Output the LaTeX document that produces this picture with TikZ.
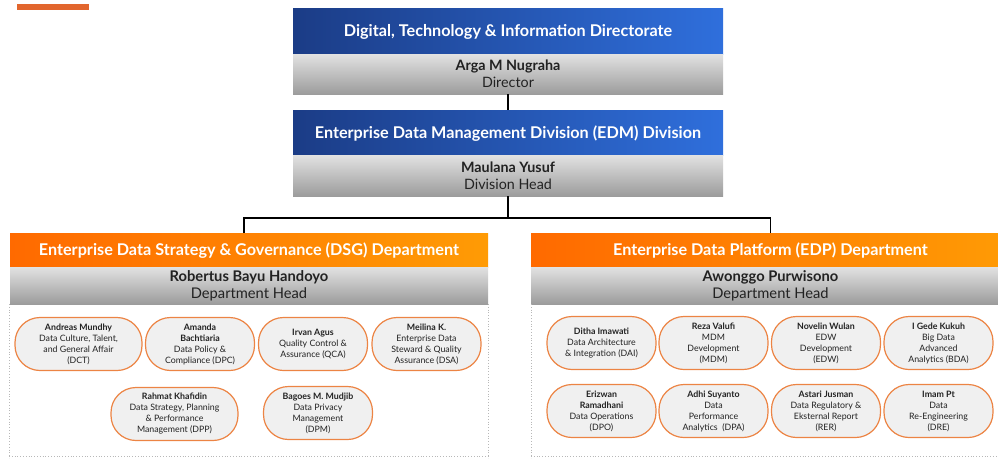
\documentclass[tikz,border=0pt]{standalone}
\usepackage{fontspec}
\setmainfont{Lato}
\usepackage{xcolor}
\usepackage{tikz}
\usetikzlibrary{calc}
\definecolor{bluedark}{HTML}{1B3C86}
\definecolor{bluelight}{HTML}{2F6FDC}
\definecolor{orgdark}{HTML}{FF6A00}
\definecolor{orglight}{HTML}{FF9B05}
\definecolor{graytop}{HTML}{E2E2E2}
\definecolor{graybot}{HTML}{9C9C9C}
\definecolor{pillbg}{HTML}{F0F0F0}
\definecolor{pillrim}{HTML}{EC8444}
\definecolor{ink}{HTML}{222222}
\definecolor{frame}{HTML}{B8B8B8}
\definecolor{bar}{HTML}{E2662E}
\tikzset{
  hdr/.style={rectangle, inner sep=0pt, text=white, text height=11.5pt, text depth=0pt,
    font=\bfseries\fontsize{16.2}{18}\selectfont},
  hdrblue/.style={hdr, left color=bluedark, right color=bluelight, minimum width=430pt},
  hdrorg/.style={hdr, left color=orgdark, right color=orglight, minimum width=478pt, minimum height=34pt},
  head/.style={rectangle, inner sep=0pt, align=center, text=ink, top color=graytop, bottom color=graybot,
    font=\fontsize{14.3}{17}\selectfont},
  pill/.style={rectangle, rounded corners=25pt, draw=pillrim, line width=1.2pt, fill=pillbg,
    minimum width=109pt, minimum height=53pt, inner sep=0pt, align=center, text=ink,
    font=\fontsize{8.8}{11}\selectfont},
  wide/.style={minimum width=127pt},
  link/.style={draw=black, line width=1.4pt},
  box/.style={draw=frame, dotted, line width=0.8pt},
}
\begin{document}
\begin{tikzpicture}[x=1pt, y=-1pt]
  \useasboundingbox (0,0) rectangle (998,458);
  \fill[bar] (17,4) rectangle (89,10);
  % directorate and division
  \node[hdrblue, minimum height=46pt] (dir) at (508,31) {Digital, Technology \& Information Directorate};
  \node[head, minimum width=430pt, minimum height=40pt] (dirhead) at (508,74)
    {\textbf{Arga M Nugraha}\\Director};
  \node[hdrblue, minimum height=45pt] (edm) at (508,132.5) {Enterprise Data Management Division (EDM) Division};
  \node[head, minimum width=430pt, minimum height=41pt] (edmhead) at (508,175.5)
    {\textbf{Maulana Yusuf}\\Division Head};
  % departments
  \node[hdrorg] (dsg) at (249,250) {Enterprise Data Strategy \& Governance (DSG) Department};
  \node[head, minimum width=478pt, minimum height=37pt, font=\fontsize{14.7}{17}\selectfont] (dsghead) at (249,285.5)
    {\textbf{Robertus Bayu Handoyo}\\Department Head};
  \node[hdrorg, minimum width=479pt] (edp) at (770.5,250) {Enterprise Data Platform (EDP) Department};
  \node[head, minimum width=479pt, minimum height=37pt, font=\fontsize{14.7}{17}\selectfont] (edphead) at (770.5,285.5)
    {\textbf{Awonggo Purwisono}\\Department Head};
  \coordinate (split) at (508,218);
  \draw[link] (dirhead.south) -- (edm.north);
  \draw[link] (edmhead.south) -- (split);
  \draw[link] (split) -| ($(dsg.north)+(-5,0)$);
  \draw[link] (split) -| (edp.north);
  % dotted frames
  \draw[box] (9,304) -- (9,458);
  \draw[box] (488,304) -- (488,458);
  \draw[box] (531,304) -- (531,458);
  \draw[box] (9,456) -- (488,456);
  \draw[box] (531,456) -- (998,456);
  % DSG units
  \node[pill, wide] (dct) at (78.5,344) {\textbf{Andreas Mundhy}\\Data Culture, Talent,\\and General Affair\\(DCT)};
  \node[pill] (dpc) at (200,344) {\textbf{Amanda}\\\textbf{Bachtiaria}\\Data Policy \&\\Compliance (DPC)};
  \node[pill] (qca) at (313,344) {\textbf{Irvan Agus}\\Quality Control \&\\Assurance (QCA)};
  \node[pill] (dsa) at (426.5,344) {\textbf{Meilina K.}\\Enterprise Data\\Steward \& Quality\\Assurance (DSA)};
  \node[pill, wide] (dpp) at (174.5,414) {\textbf{Rahmat Khafidin}\\Data Strategy, Planning\\\& Performance\\Management (DPP)};
  \node[pill] (dpm) at (318,413) {\textbf{Bagoes M. Mudjib}\\Data Privacy\\Management\\(DPM)};
  % EDP units
  \node[pill] (dai) at (601.5,343) {\textbf{Ditha Imawati}\\Data Architecture\\\& Integration (DAI)};
  \node[pill] (mdm) at (713.5,343) {\textbf{Reza Valufi}\\MDM\\Development\\(MDM)};
  \node[pill] (edw) at (826,343) {\textbf{Novelin Wulan}\\EDW\\Development\\(EDW)};
  \node[pill] (bda) at (938.5,343) {\textbf{I Gede Kukuh}\\Big Data\\Advanced\\Analytics (BDA)};
  \node[pill] (dpo) at (601.5,411) {\textbf{Erizwan}\\\textbf{Ramadhani}\\Data Operations\\(DPO)};
  \node[pill] (dpa) at (713.5,411) {\textbf{Adhi Suyanto}\\Data\\Performance\\Analytics\ \ (DPA)};
  \node[pill] (rer) at (826,411) {\textbf{Astari Jusman}\\Data Regulatory \&\\Eksternal Report\\(RER)};
  \node[pill] (dre) at (938.5,411) {\textbf{Imam Pt}\\Data\\Re-Engineering\\(DRE)};
\end{tikzpicture}
\end{document}
